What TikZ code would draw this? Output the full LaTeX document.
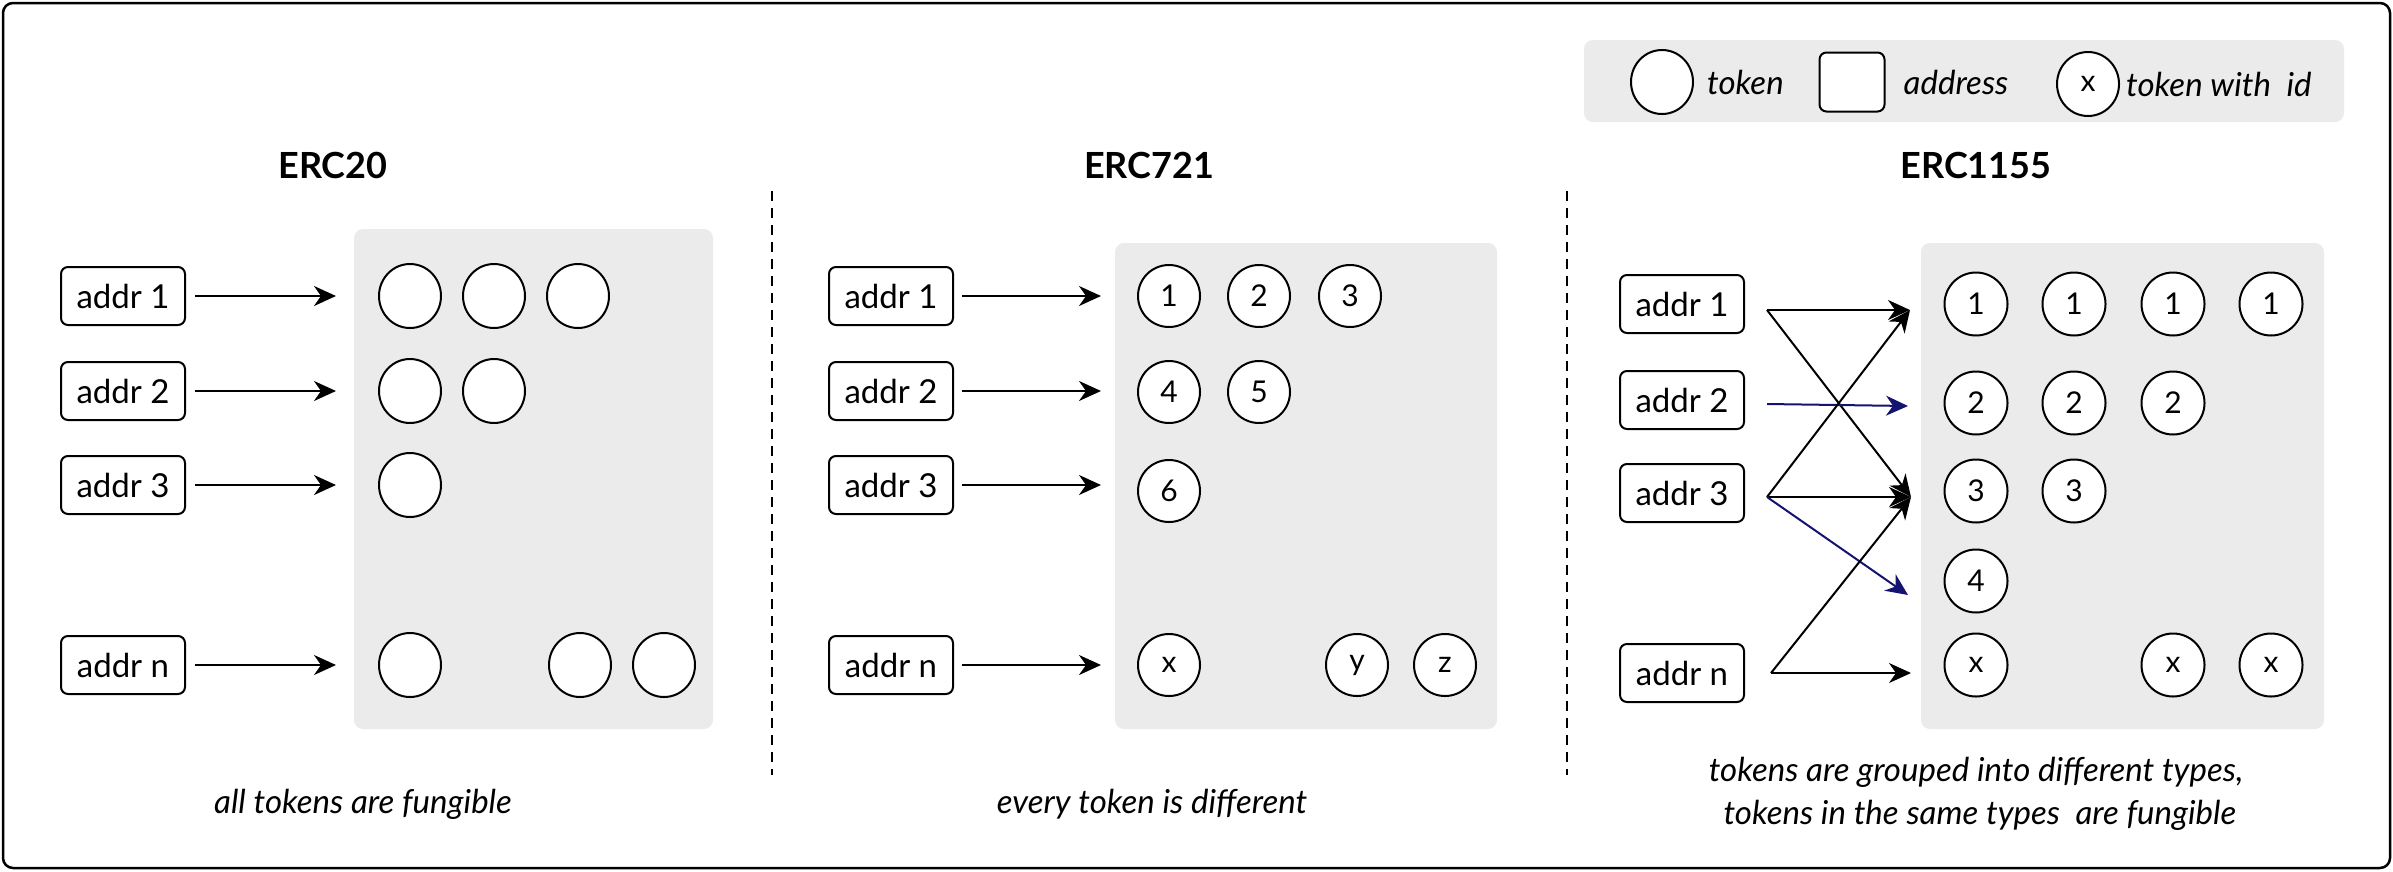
\documentclass[tikz,border=0pt]{standalone}
\usepackage{fontspec}
\setmainfont{Lato}
\usetikzlibrary{arrows.meta,shapes.geometric,positioning}

\definecolor{panelgray}{HTML}{EBEBEB}
\definecolor{navyline}{HTML}{141470}

\tikzset{
  addr/.style={draw, fill=white, rounded corners=7pt, line width=2pt,
    minimum width=124pt, minimum height=58pt, inner sep=0pt,
    font=\fontsize{33}{36}\selectfont},
  tok/.style={draw, fill=white, ellipse, line width=2pt, inner sep=0pt,
    minimum width=62pt, minimum height=64pt,
    font=\fontsize{30}{34}\selectfont},
  panel/.style={fill=panelgray, rounded corners=9pt},
  link/.style={line width=2pt, -{Stealth[length=22pt,width=20pt,inset=7pt]}},
  bluelink/.style={link, draw=navyline, -{Stealth[length=22pt,width=20pt,inset=7pt,fill=navyline]}},
  title/.style={font=\fontsize{36}{40}\selectfont\bfseries},
  caption/.style={font=\fontsize{33}{43}\selectfont\itshape, align=center},
  legendtxt/.style={font=\fontsize{33}{36}\selectfont\itshape, inner sep=0pt, anchor=west},
  sep/.style={line width=1.8pt, dash pattern=on 10pt off 7pt}
}

\begin{document}
\begin{tikzpicture}[x=1pt,y=-1pt]
\useasboundingbox (0,0) rectangle (2393,871);
\draw[line width=2.5pt, rounded corners=10pt] (3,3) rectangle (2390,868);

% legend
\fill[panel] (1584,40) rectangle (2344,122);
\node[tok] (lgtok) at (1662,82) {};
\node[legendtxt, right=13pt of lgtok] {token};
\node[addr, minimum width=65pt, minimum height=59pt] (lgaddr) at (1852,82) {};
\node[legendtxt, right=18pt of lgaddr] {address};
\node[tok] (lgid) at (2088,84) {x};
\node[legendtxt, right=6pt of lgid] {token with\ \ id};

% titles and separators
\node[title] (t20) at (333,165) {ERC20};
\node[title] (t721) at (1149,165) {ERC721};
\node[title] (t1155) at (1976,165) {ERC1155};
\draw[sep] (772,191) -- (772,775);
\draw[sep] (1567,191) -- (1567,775);

% ERC20
\fill[panel] (354,229) rectangle (713,729);
\foreach \n/\y in {1/296, 2/391, 3/485, n/665}
  \node[addr] (a\n) at (123,\y) {addr \n};
\foreach \x [count=\i] in {410,494,578} \node[tok] (fa1\i) at (\x,296) {};
\foreach \x [count=\i] in {410,494} \node[tok] (fa2\i) at (\x,391) {};
\node[tok] (fa31) at (410,485) {};
\foreach \x [count=\i] in {410,580,664} \node[tok] (fan\i) at (\x,665) {};
\foreach \n in {1,2,3,n}
  \draw[link, shorten <=9pt, shorten >=42pt] (a\n.east) -- (fa\n1.west);
\node[caption] (cap20) at (363,804) {all tokens are fungible};

% ERC721
\fill[panel] (1115,243) rectangle (1497,729);
\foreach \n/\y in {1/296, 2/391, 3/485, n/665}
  \node[addr] (b\n) at (891,\y) {addr \n};
\begin{scope}[every node/.style={tok, minimum width=62pt, minimum height=62pt}]
\node (nb11) at (1169,296) {1};
\node (nb12) at (1259,296) {2};
\node (nb13) at (1350,296) {3};
\node (nb21) at (1169,392) {4};
\node (nb22) at (1259,392) {5};
\node (nb31) at (1169,491) {6};
\node (nbn1) at (1169,665) {x};
\node (nbn2) at (1357,665) {y};
\node (nbn3) at (1445,665) {z};
\end{scope}
\foreach \n in {1,2,3,n}
  \draw[link, shorten <=8pt, shorten >=36pt] (b\n.east) -- (b\n.east -| nb\n1.west);
\node[caption] (cap721) at (1152,804) {every token is different};

% ERC1155
\fill[panel] (1921,243) rectangle (2324,729);
\foreach \n/\y in {1/304, 2/400, 3/493, n/673}
  \node[addr] (c\n) at (1682,\y) {addr \n};
\begin{scope}[every node/.style={tok, minimum width=63pt, minimum height=63pt}]
\foreach \x [count=\i] in {1976,2074,2173,2271} \node (k1\i) at (\x,304) {1};
\foreach \x [count=\i] in {1976,2074,2173} \node (k2\i) at (\x,403) {2};
\foreach \x [count=\i] in {1976,2074} \node (k3\i) at (\x,491) {3};
\node (k41) at (1976,581) {4};
\foreach \x [count=\i] in {1976,2173,2271} \node (kn\i) at (\x,665) {x};
\end{scope}
\coordinate (s1) at ([shift={(22,6)}]c1.east);
\coordinate (s2) at ([shift={(22,4)}]c2.east);
\coordinate (s3) at ([shift={(22,4)}]c3.east);
\coordinate (sn) at ([shift={(26,0)}]cn.east);
\coordinate (e1) at (1910,310);
\coordinate (e2) at (1908,406);
\coordinate (e3) at (1911,497);
\coordinate (e4) at (1908,595);
\coordinate (en) at (1911,673);
\draw[link] (s1) -- (e1);
\draw[link] (s1) -- (e3);
\draw[bluelink] (s2) -- (e2);
\draw[link] (s3) -- (e3);
\draw[link] (s3) -- (e1);
\draw[bluelink] (s3) -- (e4);
\draw[link] (sn) -- (en);
\draw[link] (sn) -- (e3);
\node[caption] (cap1155) at (1976,794) {tokens are grouped into different types,\\
  \ tokens in the same types\ \ are fungible};
\end{tikzpicture}
\end{document}
